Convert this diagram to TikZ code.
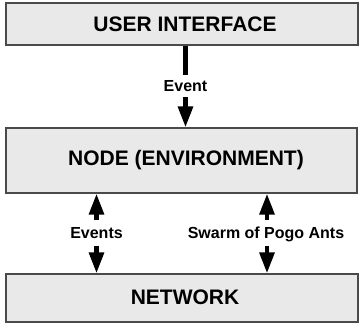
\documentclass[tikz,border=0pt]{standalone}
\usepackage{fontspec}
\setmainfont{Liberation Sans}
\usetikzlibrary{arrows.meta}
\definecolor{boxfill}{HTML}{E9E9E9}
\definecolor{boxline}{HTML}{4A4A4A}
\begin{document}
\begin{tikzpicture}[x=1pt,y=-1pt,
  layer/.style={draw=boxline,line width=1.3pt,fill=boxfill,inner sep=0pt},
  title/.style={font=\bfseries\fontsize{21}{23}\selectfont},
  lbl/.style={font=\bfseries\fontsize{16}{18}\selectfont,inner xsep=0pt,text height=11.5pt,text depth=0pt},
  shaft/.style={line width=4.5pt},
  arr/.style={line width=4.5pt,-{Triangle[length=21pt,width=14.5pt]}}]
\useasboundingbox (0,0) rectangle (360,325);
% boxes
\node[layer,minimum width=352pt,minimum height=42pt] (ui) at (182,24) {};
\node[layer,minimum width=351pt,minimum height=65pt] (env) at (181.5,160.5) {};
\node[layer,minimum width=352pt,minimum height=48pt] (net) at (182,298) {};
\node[title] (uit) at (185,24) {USER INTERFACE};
\node[title] (envt) at (186,160) {NODE (ENVIRONMENT)};
\node[title] (nett) at (185,297) {NETWORK};
% labels
\node[lbl,inner ysep=4.8pt] (ev) at (185.5,86) {Event};
\node[lbl,inner ysep=6.7pt] (evs) at (96.5,233) {Events};
\node[lbl,inner ysep=6.7pt] (sw) at (266,233) {Swarm of Pogo Ants};
% connectors
\draw[shaft] (ui.south -| ev) -- (ev.north);
\draw[arr] (ev.south) -- (env.north -| ev);
\draw[arr] (evs.north) -- (env.south -| evs);
\draw[arr] (evs.south) -- (net.north -| evs);
\draw[arr] (sw.north -| 267,0) -- (env.south -| 267,0);
\draw[arr] (sw.south -| 267,0) -- (net.north -| 267,0);
\end{tikzpicture}
\end{document}
